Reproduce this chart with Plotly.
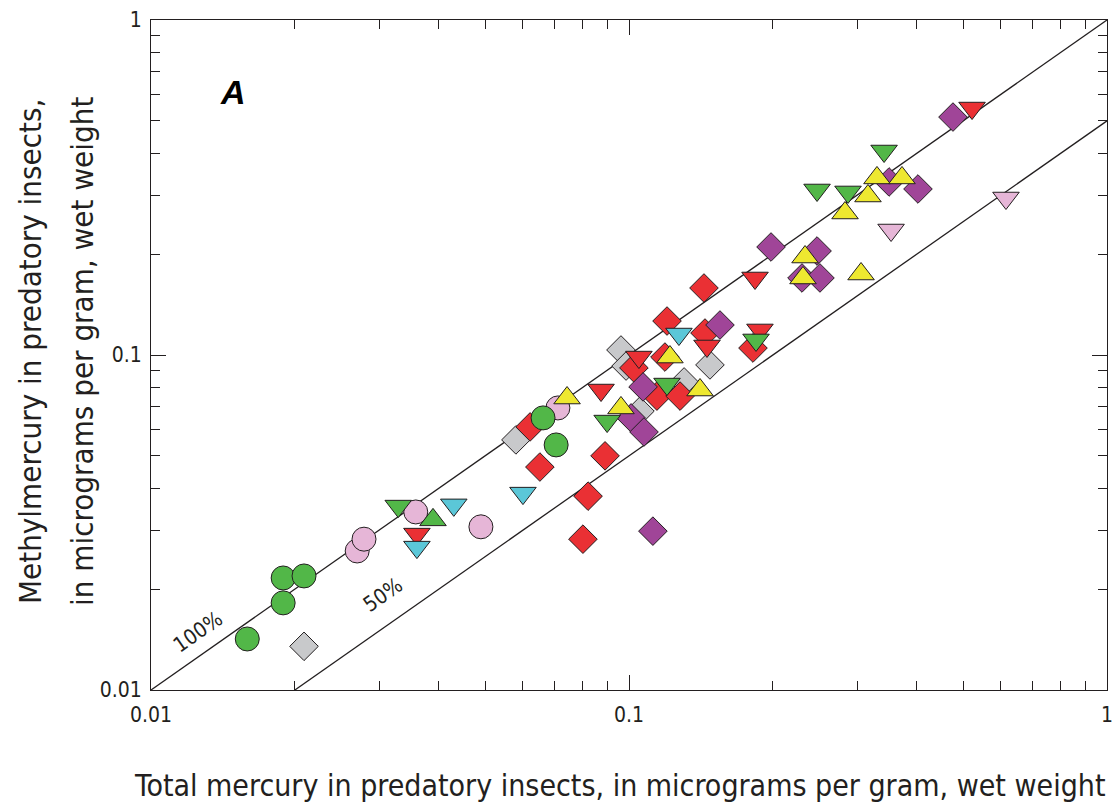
import plotly.graph_objects as go

# ---- data (total Hg, MeHg) in micrograms per gram ----
gray_dia_x = [0.0209, 0.0580, 0.0962, 0.0986, 0.1477, 0.1304, 0.1054]
gray_dia_y = [0.0135, 0.0558, 0.1035, 0.0927, 0.0934, 0.0831, 0.0680]

red_dia_x = [0.0801, 0.0821, 0.0651, 0.0891, 0.0621, 0.1024, 0.1201, 0.1442, 0.1435, 0.1817, 0.1189, 0.1144, 0.1279]
red_dia_y = [0.0282, 0.0379, 0.0463, 0.0500, 0.0610, 0.0915, 0.1263, 0.1163, 0.1585, 0.1049, 0.0986, 0.0754, 0.0754]

purple_dia_x = [0.1122, 0.1070, 0.1550, 0.1010, 0.1075, 0.1982, 0.2474, 0.2301, 0.2509, 0.350, 0.4023, 0.4762]
purple_dia_y = [0.0298, 0.0803, 0.1229, 0.0649, 0.0589, 0.2101, 0.2044, 0.1698, 0.1698, 0.3285, 0.3130, 0.5132]

pink_circ_x = [0.0270, 0.0279, 0.0358, 0.0490, 0.0710]
pink_circ_y = [0.0260, 0.0282, 0.0340, 0.0307, 0.0695]

green_circ_x = [0.0159, 0.0189, 0.0209, 0.0189, 0.0661, 0.0704]
green_circ_y = [0.0142, 0.0216, 0.0219, 0.0182, 0.0649, 0.0539]

red_tri_x = [0.0360, 0.0874, 0.1049, 0.1835, 0.1879, 0.1456, 0.522]
red_tri_y = [0.0292, 0.0786, 0.0986, 0.1698, 0.1188, 0.1064, 0.546]

cyan_tri_x = [0.0430, 0.0360, 0.0600, 0.1272]
cyan_tri_y = [0.0357, 0.0267, 0.0387, 0.1155]

green_dtri_x = [0.0329, 0.0900, 0.1201, 0.1844, 0.2474, 0.2872, 0.3417]
green_dtri_y = [0.0354, 0.0635, 0.0819, 0.1109, 0.3109, 0.3067, 0.4064]

pink_dtri_x = [0.3534, 0.6147]
pink_dtri_y = [0.2361, 0.2942]

green_utri_x = [0.0389]
green_utri_y = [0.0322]

yellow_tri_x = [0.0742, 0.0962, 0.1218, 0.1408, 0.2335, 0.2312, 0.3058, 0.2831, 0.3162, 0.3302, 0.3725]
yellow_tri_y = [0.0744, 0.0695, 0.0986, 0.0786, 0.1961, 0.1698, 0.1745, 0.2654, 0.2983, 0.3377, 0.3377]

line100_x = [0.01, 1]
line100_y = [0.01, 1]
line50_x = [0.02, 1]
line50_y = [0.01, 0.5]

major_ticks = [0.01, 0.1, 1]
major_labels = ["0.01", "0.1", "1"]
minor_ticks = [0.02, 0.03, 0.04, 0.05, 0.06, 0.07, 0.08, 0.09,
               0.2, 0.3, 0.4, 0.5, 0.6, 0.7, 0.8, 0.9]

OUT = "#231f20"
FONT = "DejaVu Sans Condensed, Liberation Sans Narrow, Arial Narrow, sans-serif"

fig = go.Figure()
fig.add_trace(go.Scatter(x=line100_x, y=line100_y, mode="lines",
                         line=dict(color=OUT, width=1.3), hoverinfo="skip"))
fig.add_trace(go.Scatter(x=line50_x, y=line50_y, mode="lines",
                         line=dict(color=OUT, width=1.3), hoverinfo="skip"))

def add(xs, ys, symbol, color, size):
    fig.add_trace(go.Scatter(x=xs, y=ys, mode="markers",
                             marker=dict(symbol=symbol, color=color, size=size,
                                         line=dict(color=OUT, width=1))))

add(gray_dia_x, gray_dia_y, "diamond", "#c8c9cb", 22)
add(red_dia_x, red_dia_y, "diamond", "#ea3034", 22)
add(purple_dia_x, purple_dia_y, "diamond", "#a04598", 22)
add(pink_circ_x, pink_circ_y, "circle", "#e6b6d7", 24)
add(green_circ_x, green_circ_y, "circle", "#52b748", 24)
add(red_tri_x, red_tri_y, "triangle-down", "#ea3034", 23)
add(cyan_tri_x, cyan_tri_y, "triangle-down", "#5bc7d8", 23)
add(green_dtri_x, green_dtri_y, "triangle-down", "#52b748", 23)
add(pink_dtri_x, pink_dtri_y, "triangle-down", "#e6b6d7", 23)
add(green_utri_x, green_utri_y, "triangle-up", "#52b748", 23)
add(yellow_tri_x, yellow_tri_y, "triangle-up", "#eee830", 23)

axis_common = dict(
    type="log", showgrid=False, zeroline=False, automargin=False,
    showline=True, linecolor=OUT, linewidth=1.2, mirror="ticks",
    ticks="inside", ticklen=15, tickcolor=OUT, tickwidth=1,
    tickvals=major_ticks, ticktext=major_labels,
    tickfont=dict(family=FONT, size=21, color=OUT),
    minor=dict(ticks="inside", ticklen=9, tickcolor=OUT, tickwidth=1,
               tickvals=minor_ticks, showgrid=False),
)
fig.update_xaxes(range=[-2, 0], ticklabelstandoff=6, **axis_common)
fig.update_yaxes(range=[-2, 0], ticklabelstandoff=4, **axis_common)

fig.add_annotation(x=-1.902, y=-1.827, xref="x", yref="y", text="100%", showarrow=False,
                   xanchor="center", yanchor="middle",
                   textangle=-35, font=dict(family=FONT, size=21, color=OUT))
fig.add_annotation(x=-1.515, y=-1.716, xref="x", yref="y", text="50%", showarrow=False,
                   xanchor="center", yanchor="middle",
                   textangle=-35, font=dict(family=FONT, size=21, color=OUT))
fig.add_annotation(x=(233 - 151) / 956, y=1 - (92 - 20) / 670, xref="paper", yref="paper",
                   text="<b><i>A</i></b>", xanchor="center", yanchor="middle",
                   showarrow=False, font=dict(family="Liberation Sans, Arial, sans-serif", size=34, color="#000"))

fig.add_annotation(x=(620 - 151) / 956, y=-(785 - 690) / 670, xref="paper", yref="paper",
                   text="Total mercury in predatory insects, in micrograms per gram, wet weight",
                   xanchor="center", yanchor="middle",
                   showarrow=False, font=dict(family=FONT, size=30, color=OUT))
fig.add_annotation(x=(30 - 151) / 956, y=1 - (352 - 20) / 670, xref="paper", yref="paper",
                   text="Methylmercury in predatory insects,", textangle=-90,
                   xanchor="center", yanchor="middle",
                   showarrow=False, font=dict(family=FONT, size=31, color=OUT))
fig.add_annotation(x=(82 - 151) / 956, y=1 - (352 - 20) / 670, xref="paper", yref="paper",
                   text="in micrograms per gram, wet weight", textangle=-90,
                   xanchor="center", yanchor="middle",
                   showarrow=False, font=dict(family=FONT, size=31, color=OUT))

# page body adds an 8px offset; margins compensate so the plot lands at 151..1107 x 20..690
fig.update_layout(
    width=1120, height=803, showlegend=False,
    margin=dict(l=143, r=21, t=12, b=121, autoexpand=False),
    plot_bgcolor="white", paper_bgcolor="white",
)
fig.write_html("out.html")
